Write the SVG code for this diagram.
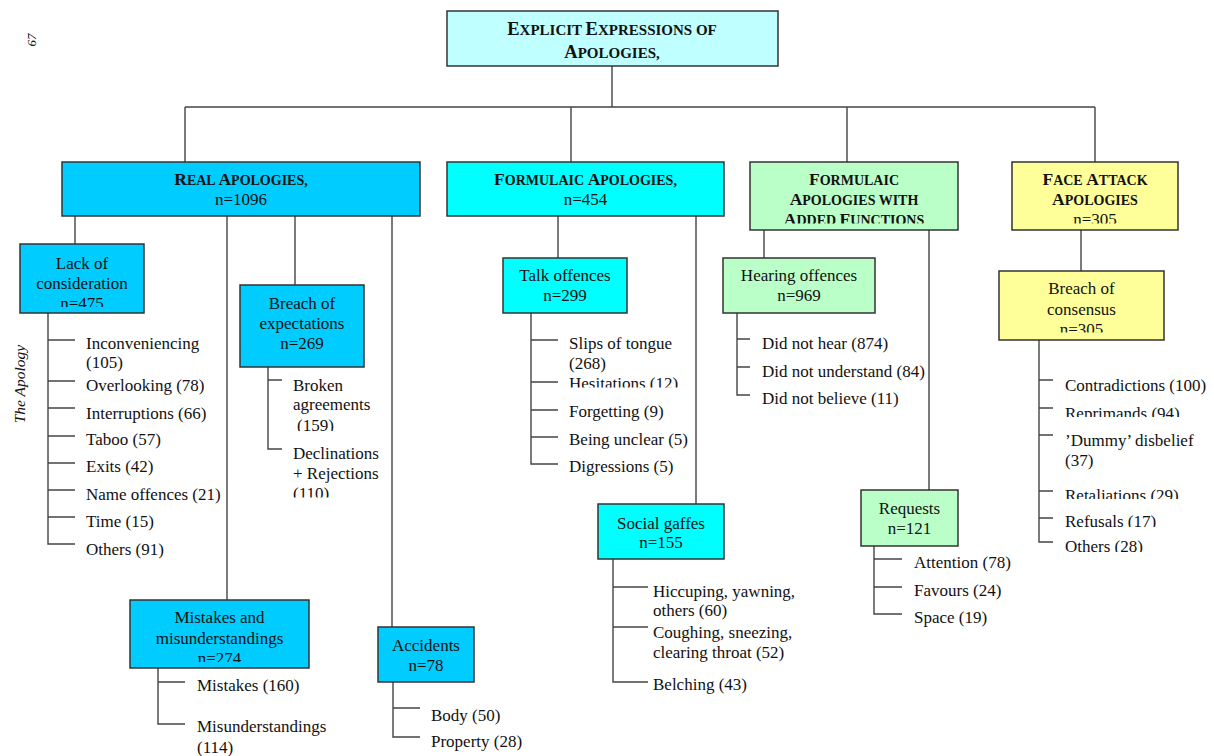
<svg xmlns="http://www.w3.org/2000/svg" width="1214" height="756" viewBox="0 0 1214 756">
<style>
.box{stroke:#333;stroke-width:1.5}
.ln{stroke:#444;stroke-width:1.4;fill:none}
.t{font-family:"Liberation Serif","Times New Roman",serif;font-size:17px;fill:#111}
.c{text-anchor:middle}
.h{font-weight:bold;font-size:14px}
.b{font-size:17.5px}
.hr{font-size:15px}
.br{font-size:18.5px}
.side{font-family:"Liberation Serif","Times New Roman",serif;font-style:italic;fill:#111}
.root{fill:#c0ffff}.blue{fill:#00ccff}.cyan{fill:#00ffff}.green{fill:#bbffc8}.yellow{fill:#ffff99}
</style>
<defs>
<clipPath id="cFA"><rect x="740" y="150" width="230" height="73.5"/></clipPath>
<clipPath id="cFace"><rect x="1000" y="150" width="200" height="73.5"/></clipPath>
<clipPath id="cLack"><rect x="0" y="240" width="160" height="67"/></clipPath>
<clipPath id="cCons"><rect x="990" y="260" width="200" height="72.5"/></clipPath>
<clipPath id="cMis"><rect x="120" y="590" width="200" height="72"/></clipPath>
<clipPath id="c159"><rect x="280" y="370" width="120" height="61"/></clipPath>
<clipPath id="c110"><rect x="280" y="440" width="120" height="57.5"/></clipPath>
<clipPath id="cHes"><rect x="560" y="370" width="200" height="17.5"/></clipPath>
<clipPath id="cRep"><rect x="1050" y="395" width="164" height="22"/></clipPath>
<clipPath id="cRet"><rect x="1050" y="480" width="164" height="19"/></clipPath>
<clipPath id="cRef"><rect x="1050" y="505" width="164" height="22"/></clipPath>
<clipPath id="cOth"><rect x="1050" y="530" width="164" height="22"/></clipPath>
</defs>

<text class="side" font-size="13" transform="translate(36,40) rotate(-90)" text-anchor="middle">67</text>
<text class="side" font-size="15.5" transform="translate(25,384) rotate(-90)" text-anchor="middle">The Apology</text>

<g id="connectors">
<path class="ln" d="M612,66V107M185,107H1095M185,107V162M571,107V162M847,107V162M1095,107V162"/>
<path class="ln" d="M75,216V244M227,216V600M295,216V285M392,216V627"/>
<path class="ln" d="M48,313V544H75M48,340H75M48,381H75M48,408H75M48,436H75M48,463H75M48,490H75M48,517H75"/>
<path class="ln" d="M268,367V449H282M268,380H282"/>
<path class="ln" d="M158,668V724H185M158,682H185"/>
<path class="ln" d="M393,682V737H420M393,708H420"/>
<path class="ln" d="M558,216V258M696,216V504"/>
<path class="ln" d="M531,313V464H558M531,340H558M531,382H558M531,410H558M531,437H558"/>
<path class="ln" d="M613,559V682H648M613,587H648M613,627H648"/>
<path class="ln" d="M764,230V258M929,230V490"/>
<path class="ln" d="M737,313V395H750M737,339H750M737,367H750"/>
<path class="ln" d="M874,546V614H902M874,559H902M874,587H902"/>
<path class="ln" d="M1081,230V271"/>
<path class="ln" d="M1039,340V542H1053M1039,380H1053M1039,408H1053M1039,435H1053M1039,491H1053M1039,518H1053"/>
</g>

<g id="root">
<rect class="box root" x="447" y="11" width="331" height="55"/>
<text class="t h hr c" x="612" y="35"><tspan class="br">E</tspan>XPLICIT <tspan class="br">E</tspan>XPRESSIONS OF</text>
<text class="t h hr c" x="612" y="58"><tspan class="br">A</tspan>POLOGIES,</text>
</g>

<g id="real">
<rect class="box blue" x="62" y="162" width="358" height="54"/>
<text class="t h c" x="241" y="185"><tspan class="b">R</tspan>EAL <tspan class="b">A</tspan>POLOGIES,</text>
<text class="t c" x="241" y="205">n=1096</text>
</g>

<g id="formulaic">
<rect class="box cyan" x="447" y="162" width="277" height="54"/>
<text class="t h c" x="585.5" y="185"><tspan class="b">F</tspan>ORMULAIC <tspan class="b">A</tspan>POLOGIES,</text>
<text class="t c" x="585.5" y="205">n=454</text>
</g>

<g id="formulaic-added">
<rect class="box green" x="750" y="162" width="208" height="68"/>
<g clip-path="url(#cFA)">
<text class="t h c" x="854" y="185"><tspan class="b">F</tspan>ORMULAIC</text>
<text class="t h c" x="854" y="205"><tspan class="b">A</tspan>POLOGIES WITH</text>
<text class="t h c" x="854" y="225"><tspan class="b">A</tspan>DDED <tspan class="b">F</tspan>UNCTIONS</text>
</g>
</g>

<g id="face-attack">
<rect class="box yellow" x="1012" y="162" width="166" height="68"/>
<g clip-path="url(#cFace)">
<text class="t h c" x="1095" y="185"><tspan class="b">F</tspan>ACE <tspan class="b">A</tspan>TTACK</text>
<text class="t h c" x="1095" y="205"><tspan class="b">A</tspan>POLOGIES</text>
<text class="t c" x="1095" y="225">n=305</text>
</g>
</g>

<g id="lack">
<rect class="box blue" x="20" y="244" width="124" height="69"/>
<g clip-path="url(#cLack)">
<text class="t c" x="82" y="269">Lack of</text>
<text class="t c" x="82" y="289">consideration</text>
<text class="t c" x="82" y="309">n=475</text>
</g>
<text class="t" x="86" y="349">Inconveniencing</text>
<text class="t" x="86" y="368">(105)</text>
<text class="t" x="86" y="391">Overlooking (78)</text>
<text class="t" x="86" y="419">Interruptions (66)</text>
<text class="t" x="86" y="445">Taboo (57)</text>
<text class="t" x="86" y="472">Exits (42)</text>
<text class="t" x="86" y="500">Name offences (21)</text>
<text class="t" x="86" y="527">Time (15)</text>
<text class="t" x="86" y="555">Others (91)</text>
</g>

<g id="breach-expectations">
<rect class="box blue" x="240" y="285" width="124" height="82"/>
<text class="t c" x="302" y="309">Breach of</text>
<text class="t c" x="302" y="329">expectations</text>
<text class="t c" x="302" y="349">n=269</text>
<text class="t" x="293" y="391">Broken</text>
<text class="t" x="293" y="410">agreements</text>
<text class="t" x="297" y="431" clip-path="url(#c159)">(159)</text>
<text class="t" x="293" y="459">Declinations</text>
<text class="t" x="293" y="479">+ Rejections</text>
<text class="t" x="293" y="498.5" clip-path="url(#c110)">(110)</text>
</g>

<g id="mistakes">
<rect class="box blue" x="130" y="600" width="179" height="68"/>
<g clip-path="url(#cMis)">
<text class="t c" x="219.5" y="623">Mistakes and</text>
<text class="t c" x="219.5" y="644">misunderstandings</text>
<text class="t c" x="219.5" y="664">n=274</text>
</g>
<text class="t" x="197" y="691">Mistakes (160)</text>
<text class="t" x="197" y="732">Misunderstandings</text>
<text class="t" x="197" y="753">(114)</text>
</g>

<g id="accidents">
<rect class="box blue" x="378" y="627" width="96" height="55"/>
<text class="t c" x="426" y="651">Accidents</text>
<text class="t c" x="426" y="671">n=78</text>
<text class="t" x="431" y="721">Body (50)</text>
<text class="t" x="431" y="747">Property (28)</text>
</g>

<g id="talk">
<rect class="box cyan" x="503" y="258" width="124" height="55"/>
<text class="t c" x="565" y="281">Talk offences</text>
<text class="t c" x="565" y="301">n=299</text>
<text class="t" x="569" y="349">Slips of tongue</text>
<text class="t" x="569" y="369">(268)</text>
<text class="t" x="569" y="389" clip-path="url(#cHes)">Hesitations (12)</text>
<text class="t" x="569" y="417">Forgetting (9)</text>
<text class="t" x="569" y="445">Being unclear (5)</text>
<text class="t" x="569" y="472">Digressions (5)</text>
</g>

<g id="social">
<rect class="box cyan" x="598" y="504" width="126" height="55"/>
<text class="t c" x="661" y="529">Social gaffes</text>
<text class="t c" x="661" y="548">n=155</text>
<text class="t" x="653" y="597">Hiccuping, yawning,</text>
<text class="t" x="653" y="616">others (60)</text>
<text class="t" x="653" y="638">Coughing, sneezing,</text>
<text class="t" x="653" y="658">clearing throat (52)</text>
<text class="t" x="653" y="690">Belching (43)</text>
</g>

<g id="hearing">
<rect class="box green" x="723" y="258" width="152" height="55"/>
<text class="t c" x="799" y="281">Hearing offences</text>
<text class="t c" x="799" y="301">n=969</text>
<text class="t" x="762" y="349">Did not hear (874)</text>
<text class="t" x="762" y="377">Did not understand (84)</text>
<text class="t" x="762" y="404">Did not believe (11)</text>
</g>

<g id="requests">
<rect class="box green" x="861" y="490" width="97" height="56"/>
<text class="t c" x="909.5" y="514">Requests</text>
<text class="t c" x="909.5" y="534">n=121</text>
<text class="t" x="914" y="568">Attention (78)</text>
<text class="t" x="914" y="596">Favours (24)</text>
<text class="t" x="914" y="623">Space (19)</text>
</g>

<g id="consensus">
<rect class="box yellow" x="999" y="271" width="165" height="69"/>
<g clip-path="url(#cCons)">
<text class="t c" x="1081.5" y="294">Breach of</text>
<text class="t c" x="1081.5" y="315">consensus</text>
<text class="t c" x="1081.5" y="334.5">n=305</text>
</g>
<text class="t" x="1065" y="391">Contradictions (100)</text>
<text class="t" x="1065" y="418.5" clip-path="url(#cRep)">Reprimands (94)</text>
<text class="t" x="1065" y="446">’Dummy’ disbelief</text>
<text class="t" x="1065" y="466">(37)</text>
<text class="t" x="1065" y="500.5" clip-path="url(#cRet)">Retaliations (29)</text>
<text class="t" x="1065" y="526.5" clip-path="url(#cRef)">Refusals (17)</text>
<text class="t" x="1065" y="552" clip-path="url(#cOth)">Others (28)</text>
</g>
</svg>
